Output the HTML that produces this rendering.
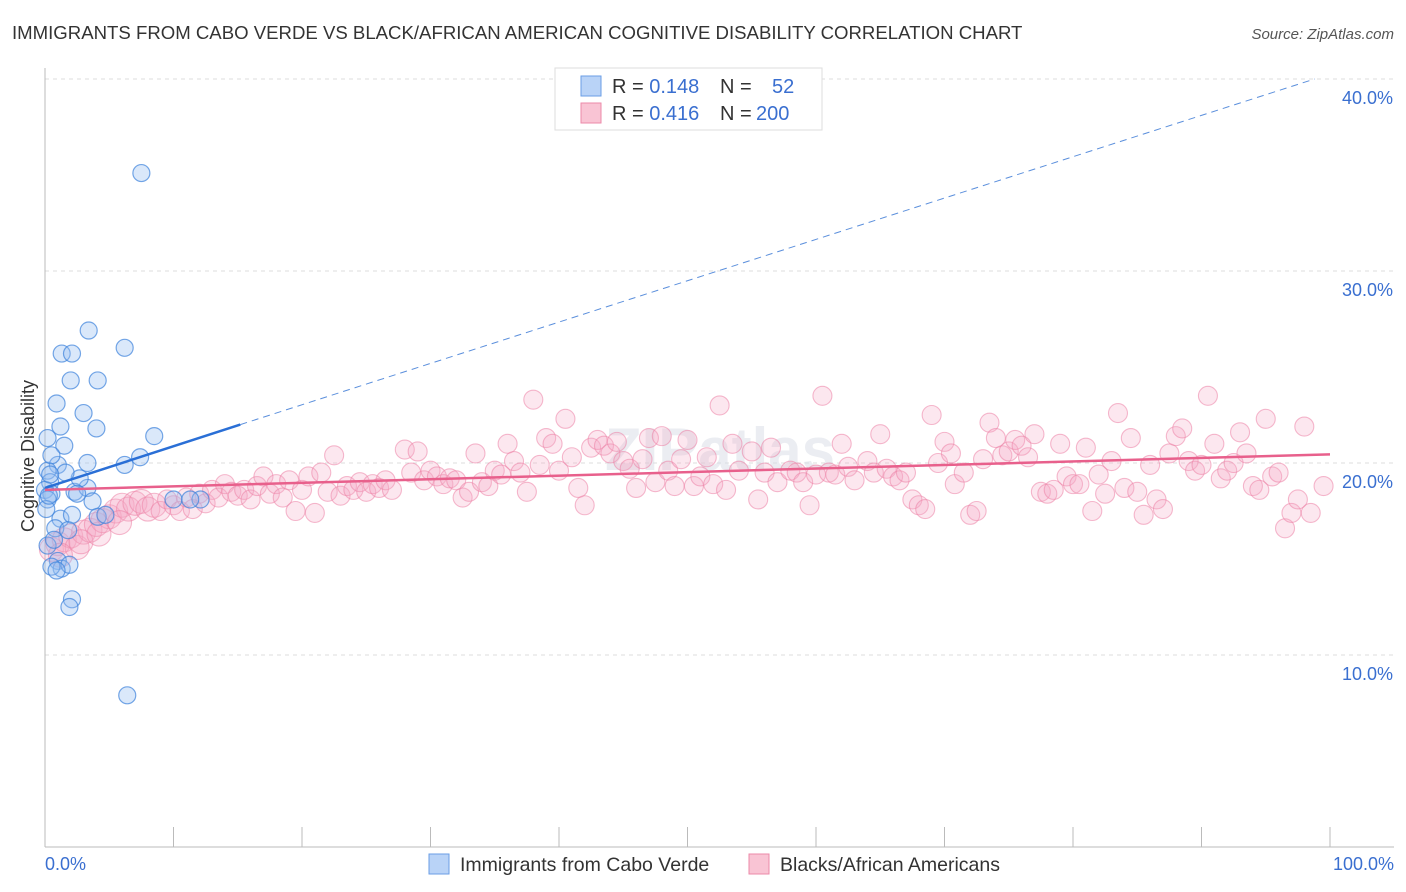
<!DOCTYPE html>
<html><head><meta charset="utf-8"><style>
body{margin:0;background:#fff;font-family:"Liberation Sans",sans-serif;}
svg{display:block}
</style></head><body>
<svg id="chart" width="1406" height="892">
<text x="12" y="39" font-size="18.6" fill="#333">IMMIGRANTS FROM CABO VERDE VS BLACK/AFRICAN AMERICAN COGNITIVE DISABILITY CORRELATION CHART</text>
<text x="1394" y="39" font-size="15" fill="#555" font-style="italic" text-anchor="end">Source: ZipAtlas.com</text>
<g id="grid"></g>
<g id="yticks"></g>
<line x1="45" y1="68" x2="45" y2="847" stroke="#bbb"/>
<line x1="45" y1="847" x2="1394" y2="847" stroke="#bbb"/>
<g id="xticks"></g>
<text x="720" y="470" font-size="60" fill="#d8dde6" opacity="0.5" text-anchor="middle" font-weight="bold">ZIPatlas</text>
<text transform="translate(34,456) rotate(-90)" font-size="18" fill="#333" text-anchor="middle">Cognitive Disability</text>
<text x="45" y="870" font-size="18" fill="#3a6fd0">0.0%</text>
<text x="1394" y="870" font-size="18" fill="#3a6fd0" text-anchor="end">100.0%</text>
<g id="pink"></g>
<g id="blue"></g>
<g id="trends"></g>
<g>
<rect x="555" y="68" width="267" height="62" fill="#fff" stroke="#ddd"/>
<rect x="581" y="76" width="20" height="20" fill="#b9d3f7" stroke="#6a9ee6"/>
<rect x="581" y="103" width="20" height="20" fill="#f9c4d4" stroke="#ec8aa9"/>
<text x="612" y="93" font-size="20" fill="#333">R = <tspan fill="#3a6fd0">0.148</tspan><tspan x="720">N = </tspan><tspan x="772" fill="#3a6fd0">52</tspan></text>
<text x="612" y="120" font-size="20" fill="#333">R = <tspan fill="#3a6fd0">0.416</tspan><tspan x="720">N = </tspan><tspan x="756" fill="#3a6fd0">200</tspan></text>
</g>
<g>
<rect x="429" y="854" width="20" height="20" fill="#b9d3f7" stroke="#6a9ee6"/>
<text x="460" y="871" font-size="19.5" fill="#333">Immigrants from Cabo Verde</text>
<rect x="749" y="854" width="20" height="20" fill="#f9c4d4" stroke="#ec8aa9"/>
<text x="780" y="871" font-size="19.5" fill="#333">Blacks/African Americans</text>
</g>
</svg>
<script>
const yTicks=[10,20,30,40];
const yTickLabels=["10.0%","20.0%","30.0%","40.0%"];
const xTicks=[0,10,20,30,40,50,60,70,80,90,100];
const blueX=[7.5,1.3,2.1,6.2,3.4,2.0,4.1,0.9,3.0,4.0,1.2,8.5,0.2,1.5,1.0,3.3,6.2,7.4,0.2,0.4,0.0,0.5,2.3,3.3,3.7,4.1,1.2,2.1,0.8,1.8,0.2,1.0,1.3,0.5,1.9,2.1,1.9,6.4,10.0,12.1,11.3,0.2,0.5,0.7,2.7,4.7,1.6,0.9,0.4,0.1,0.3,2.5];
const blueY=[35.1,25.7,25.7,26.0,26.9,24.3,24.3,23.1,22.6,21.8,21.9,21.4,21.3,20.9,19.9,20.0,19.9,20.3,19.6,19.0,18.6,18.4,18.5,18.7,18.0,17.2,17.1,17.3,16.6,16.5,15.7,14.9,14.5,14.6,14.7,12.9,12.5,7.9,18.1,18.1,18.1,18.1,20.4,16.0,19.2,17.3,19.5,14.4,19.4,17.6,18.3,18.4];
const pinkX=[0.5,1,1.5,2,2.5,3,3.5,4,4.5,5,5.5,6,6.5,7,7.5,8,8.5,9,9.5,10,10.5,11,11.5,12,12.5,13,13.5,14,14.5,15,15.5,16,16.5,17,17.5,18,18.5,19,19.5,20,20.5,21,21.5,22,22.5,23,23.5,24,24.5,25,25.5,26,26.5,27,28,28.5,29,29.5,30,30.5,31,31.5,32,32.5,33,33.5,34,34.5,35,35.5,36,36.5,37,37.5,38,38.5,39,39.5,40,40.5,41,41.5,42,42.5,43,43.5,44,44.5,45,45.5,46,46.5,47,47.5,48,48.5,49,49.5,50,50.5,51,51.5,52,52.5,53,53.5,54,55,55.5,56,56.5,57,58,58.5,59,59.5,60,60.5,61,61.5,62,62.5,63,64,64.5,65,65.5,66,66.5,67,67.5,68,68.5,69,69.5,70,70.5,70.8,71.5,72,72.5,73,73.5,74,74.5,75,75.5,76,76.5,77,77.5,78,78.5,79,79.5,80,80.5,81,81.5,82,82.5,83,83.5,84,84.5,85,85.5,86,86.5,87,87.5,88,88.5,89,89.5,90,90.5,91,91.5,92,92.5,93,93.5,94,94.5,95,95.5,96,96.5,97,97.5,98,98.5,99.5,1.2,2.8,4.2,5.8];
const pinkY=[15.5,15.8,16,16.2,15.6,16.4,16.5,16.8,17,17.2,17.5,17.8,17.6,17.9,18,17.6,17.8,17.5,18.1,17.8,17.5,18.2,17.6,18.4,17.9,18.6,18.2,18.9,18.5,18.3,18.6,18.1,18.8,19.3,18.4,18.9,18.2,19.1,17.5,18.6,19.3,17.4,19.5,18.5,20.4,18.3,18.8,18.6,19,18.5,18.9,18.7,19.1,18.6,20.7,19.5,20.6,19.1,19.6,19.3,18.9,19.2,19.1,18.2,18.5,20.5,19.0,18.8,19.6,19.4,21.0,20.1,19.5,18.5,23.3,19.9,21.3,21.0,19.6,22.3,20.3,18.7,17.8,20.8,21.2,20.9,20.5,21.1,20.1,19.7,18.7,20.2,21.3,19.0,21.4,19.6,18.8,20.2,21.2,18.8,19.3,20.3,18.9,23.0,18.6,21.0,19.6,20.6,18.1,19.5,20.8,19.0,19.6,19.5,19.0,17.8,19.4,23.5,19.5,19.4,21.0,19.8,19.1,20.1,19.5,21.5,19.7,19.3,19.1,19.5,18.1,17.8,17.6,22.5,20.0,21.1,20.5,18.9,19.5,17.3,17.5,20.2,22.1,21.3,20.4,20.6,21.2,20.9,20.3,21.5,18.5,18.4,18.6,21.0,19.3,18.9,18.9,20.8,17.5,19.4,18.4,20.1,22.6,18.7,21.3,18.5,17.3,19.9,18.1,17.6,20.5,21.4,21.8,20.1,19.6,19.9,23.5,21.0,19.2,19.6,20.0,21.6,20.5,18.8,18.6,22.3,19.3,19.5,16.6,17.4,18.1,21.9,17.4,18.8,15.2,15.9,16.3,16.9];
const blueTrend=[[0,18.7],[15.2,22.0],[98.8,40]];
const pinkTrend=[[0,18.6],[100,20.45]];
const NS="http://www.w3.org/2000/svg";
const sx=v=>45+v*12.85, sy=v=>847-v*19.2;
function mk(tag,attrs,parent){const e=document.createElementNS(NS,tag);for(const k in attrs)e.setAttribute(k,attrs[k]);parent.appendChild(e);return e;}
const grid=document.getElementById('grid'),yt=document.getElementById('yticks'),xt=document.getElementById('xticks');
yTicks.forEach((t,i)=>{
 const l=mk('line',{x1:45,x2:1394,y1:sy(t),y2:sy(t),stroke:'#ddd','stroke-dasharray':'4,4'},grid);
 
 
 const tx=mk('text',{x:1393,y:sy(t)+25,'font-size':18,fill:'#3a6fd0','text-anchor':'end'},yt);
 tx.textContent=yTickLabels[i];
 
 
});
xTicks.forEach(t=>{
 const l=mk('line',{x1:sx(t),x2:sx(t),y1:827,y2:847,stroke:'#bbb'},xt);
 
 
});
const pg=document.getElementById('pink');
pinkX.forEach((x,i)=>{
 const r=x<9?12:9.5;
 const c=mk('circle',{cx:sx(x),cy:sy(pinkY[i]),r:r,fill:'rgba(246,170,196,0.28)',stroke:'rgba(236,130,165,0.55)','stroke-width':1.1},pg);
 
 
});
const bg=document.getElementById('blue');
blueX.forEach((x,i)=>{
 const c=mk('circle',{cx:sx(x),cy:sy(blueY[i]),r:8.5,fill:'rgba(150,190,240,0.35)',stroke:'rgba(60,130,220,0.7)','stroke-width':1.2},bg);
 
 
});
const tg=document.getElementById('trends');
const b1=mk('line',{x1:sx(blueTrend[0][0]),y1:sy(blueTrend[0][1]),x2:sx(blueTrend[1][0]),y2:sy(blueTrend[1][1]),stroke:'#2a6fd6','stroke-width':2.5},tg);


const b2=mk('line',{x1:sx(blueTrend[1][0]),y1:sy(blueTrend[1][1]),x2:sx(blueTrend[2][0]),y2:sy(blueTrend[2][1]),stroke:'#5b8fdc','stroke-width':1,'stroke-dasharray':'7,5'},tg);


const p1=mk('line',{x1:sx(pinkTrend[0][0]),y1:sy(pinkTrend[0][1]),x2:sx(pinkTrend[1][0]),y2:sy(pinkTrend[1][1]),stroke:'#e8608c','stroke-width':2.5},tg);


</script>
</body></html>
